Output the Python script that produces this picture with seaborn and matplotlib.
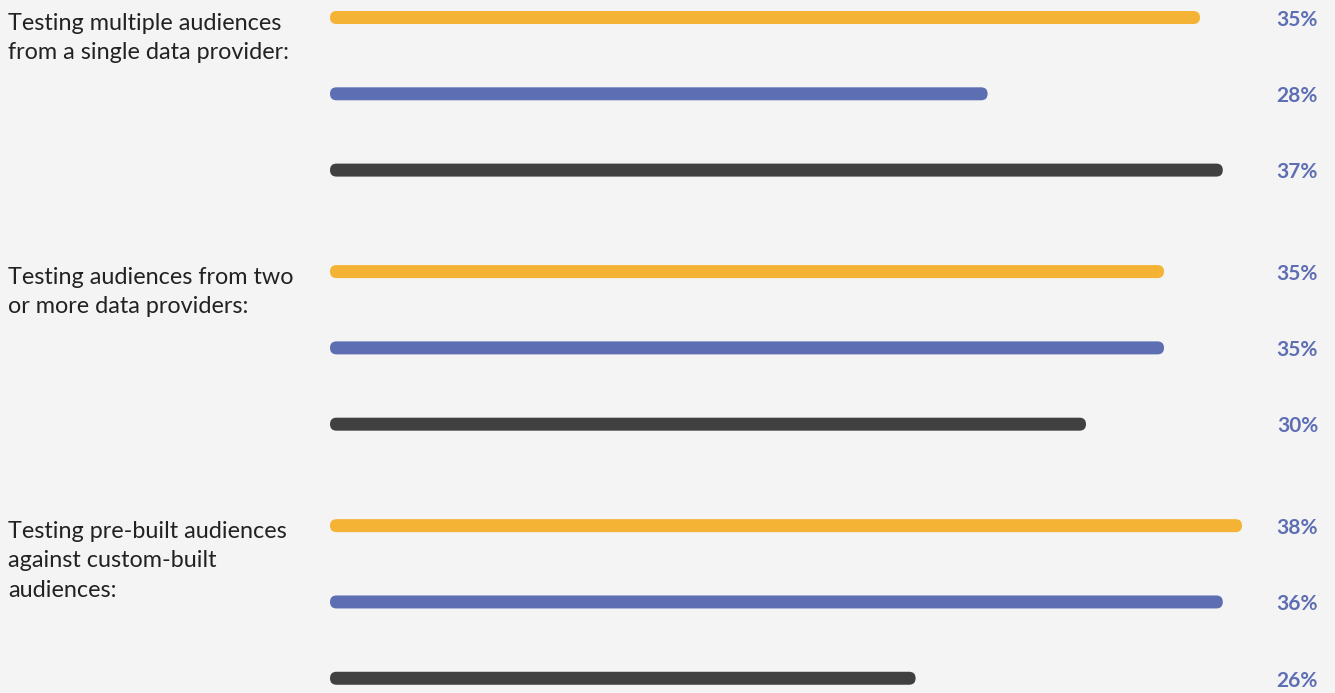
import seaborn as sns
import matplotlib.pyplot as plt
import pandas as pd
from matplotlib.patches import FancyBboxPatch

# question groups (left labels)
groups = [
    "Testing multiple audiences\nfrom a single data provider:",
    "Testing audiences from two\nor more data providers:",
    "Testing pre-built audiences\nagainst custom-built\naudiences:",
]
series = ["Series 1", "Series 2", "Series 3"]
bar_values = [36.25, 27.4, 37.2, 34.75, 34.75, 31.5, 38.0, 37.2, 24.4]
pct_labels = ["35%", "28%", "37%", "35%", "35%", "30%", "38%", "36%", "26%"]

colors = ["#F5B335", "#5E6EB3", "#404040"]
bg = "#F4F4F4"

rows = []
for gi, g in enumerate(groups):
    for si, s in enumerate(series):
        rows.append({"group": g, "series": s, "pos": gi * 3.33 + si,
                     "value": bar_values[gi * 3 + si], "label": pct_labels[gi * 3 + si]})
df = pd.DataFrame(rows)

sns.set_theme(style="white")
plt.rcParams["font.family"] = ["Lato", "DejaVu Sans"]

W, H = 1335, 693
x0 = 330          # pixel where the bars start
px_x = 24.0       # pixels per value unit
px_y = 76.3       # pixels per row

fig = plt.figure(figsize=(W / 100, H / 100), dpi=100, facecolor=bg)
ax = fig.add_axes([x0 / W, 0, (W - x0) / W, 1])
ax.set_facecolor(bg)

sns.barplot(data=df, x="value", y="pos", hue="series", palette=colors,
            orient="y", native_scale=True, dodge=False, width=13 / px_y,
            saturation=1, legend=False, ax=ax)

ax.set_xlim(0, (W - x0) / px_x)
ymin = -17.5 / px_y
ax.set_ylim(ymin + H / px_y, ymin)

# swap the rectangles for rounded ones
r = 6.5 / px_x
for p in list(ax.patches):
    bx, by, bw, bh = p.get_x(), p.get_y(), p.get_width(), p.get_height()
    fb = FancyBboxPatch((bx, by), bw, bh,
                        boxstyle=f"round,pad=0,rounding_size={r}",
                        mutation_aspect=px_x / px_y,
                        facecolor=p.get_facecolor(), edgecolor="none", clip_on=False)
    p.remove()
    ax.add_patch(fb)

for _, row in df.iterrows():
    ax.text((1318 - x0) / px_x, row["pos"] + 0.03, row["label"], ha="right", va="center",
            fontsize=15, fontweight="bold", color="#5E6EB3")

for gi, g in enumerate(groups):
    ax.text((8 - x0) / (W - x0), gi * 3.33 - 0.065, g, transform=ax.get_yaxis_transform(),
            ha="left", va="top", fontsize=16.8, color="#222222", linespacing=1.5)

ax.set_xlabel("")
ax.set_ylabel("")
ax.set_xticks([])
ax.set_yticks([])
sns.despine(ax=ax, left=True, bottom=True)

fig.savefig("out.png", dpi=100, facecolor=bg)
